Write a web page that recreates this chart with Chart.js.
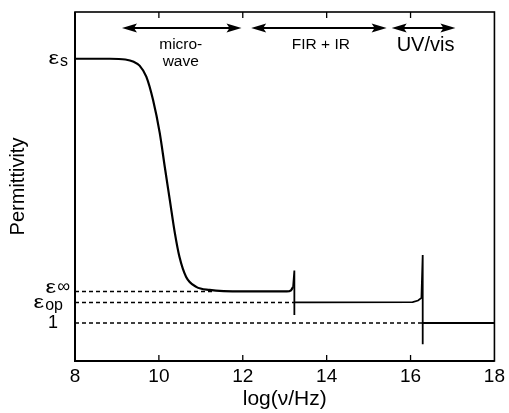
<!DOCTYPE html>
<html>
<head>
<meta charset="utf-8">
<script src="https://cdn.jsdelivr.net/npm/chart.js@4.4.1/dist/chart.umd.min.js"></script>
<style>
html,body{margin:0;padding:0;background:#fff;}
#wrap{width:509px;height:413px;}
</style>
</head>
<body>
<div id="wrap"><canvas id="c" width="509" height="413"></canvas></div>
<script>
// ---- data ----
// Debye-like relaxation (microwave region)
const relaxX = [8, 8.83, 9.20, 9.40, 9.54, 9.70, 9.86, 10.02, 10.14, 10.26, 10.38, 10.49, 10.65, 10.89, 11.21, 12.0, 13.05, 13.15, 13.20];
const relaxY = [7.95, 7.95, 7.93, 7.87, 7.77, 7.48, 6.87, 6.00, 5.11, 4.24, 3.37, 2.74, 2.21, 1.95, 1.87, 1.83, 1.83, 1.86, 1.95];
// resonance steps (FIR/IR and UV/vis)
const stepX = [13.20, 13.23, 13.23, 13.23, 13.6, 16.05, 16.18, 16.26, 16.29, 16.29, 16.29, 18];
const stepY = [1.95, 2.38, 1.21, 1.54, 1.54, 1.55, 1.59, 1.66, 2.79, 0.44, 1.00, 1.00];
const levelValues = [7.95, 1.83, 1.54, 1.0];
const levelMain = ['ε', 'ε', 'ε', '1'];
const levelSub = ['s', '∞', 'op', ''];
const dashedEnd = [null, 11.3, 13.23, 16.29];
const bandStart = [9.12, 12.2, 15.55];
const bandEnd = [11.97, 15.43, 17.07];
const bandLabels = [['micro-', 'wave'], ['FIR + IR'], ['UV/vis']];
const bandArrowY = 8.76;
const xTicks = [8, 10, 12, 14, 16, 18];

const FONT = '"Liberation Sans", Arial, Helvetica, sans-serif';

const dashedSets = [];
for (let i = 1; i < levelValues.length; i++) {
  dashedSets.push({
    type: 'line',
    data: [{x: 8, y: levelValues[i]}, {x: dashedEnd[i], y: levelValues[i]}],
    borderColor: '#000', borderWidth: 1.4, borderDash: [4, 3],
    pointRadius: 0, tension: 0, fill: false
  });
}

const deco = {
  id: 'deco',
  afterDatasetsDraw(chart) {
    const ctx = chart.ctx, a = chart.chartArea;
    const xs = chart.scales.x, ys = chart.scales.y;
    ctx.save();
    ctx.strokeStyle = '#000';
    ctx.lineWidth = 1.6;
    ctx.strokeRect(a.left, a.top, a.right - a.left, a.bottom - a.top);
    ctx.lineWidth = 2;
    ctx.beginPath(); ctx.moveTo(a.left, a.top); ctx.lineTo(a.left, a.bottom); ctx.lineTo(a.right, a.bottom); ctx.stroke();
    // inward ticks
    ctx.lineWidth = 1.3;
    xTicks.forEach(t => {
      if (t === 8 || t === 18) return;
      const px = xs.getPixelForValue(t);
      ctx.beginPath(); ctx.moveTo(px, a.bottom); ctx.lineTo(px, a.bottom - 6); ctx.stroke();
      ctx.beginPath(); ctx.moveTo(px, a.top); ctx.lineTo(px, a.top + 6); ctx.stroke();
    });
    // band arrows
    ctx.fillStyle = '#000';
    const ay = ys.getPixelForValue(bandArrowY);
    for (let i = 0; i < bandStart.length; i++) {
      const x1 = xs.getPixelForValue(bandStart[i]);
      const x2 = xs.getPixelForValue(bandEnd[i]);
      ctx.lineWidth = 2;
      ctx.beginPath(); ctx.moveTo(x1 + 6, ay); ctx.lineTo(x2 - 6, ay); ctx.stroke();
      ctx.beginPath(); ctx.moveTo(x1, ay); ctx.lineTo(x1 + 15, ay - 4.5); ctx.lineTo(x1 + 12, ay); ctx.lineTo(x1 + 15, ay + 4.5); ctx.closePath(); ctx.fill();
      ctx.beginPath(); ctx.moveTo(x2, ay); ctx.lineTo(x2 - 15, ay - 4.5); ctx.lineTo(x2 - 12, ay); ctx.lineTo(x2 - 15, ay + 4.5); ctx.closePath(); ctx.fill();
      const cx = (x1 + x2) / 2;
      ctx.textAlign = 'center'; ctx.textBaseline = 'middle';
      const lines = bandLabels[i];
      if (lines[0] === 'UV/vis') {
        ctx.font = '20px ' + FONT;
        ctx.fillText(lines[0], cx + 2, ay + 18);
      } else {
        ctx.font = '15.5px ' + FONT;
        lines.forEach((s, k) => ctx.fillText(s, (i === 0 ? cx - 1 : cx + 2), ay + 17 + k * 17));
      }
    }
    // level labels
    const rightEdge = [68, 70, 63, 58];
    const mainDy = [0, -4, 0, 0];
    const subDy = [3, -4, 3, 0];
    const subSize = [16, 18, 16, 0];
    const SX = 1.25;
    for (let i = 0; i < levelValues.length; i++) {
      const py = ys.getPixelForValue(levelValues[i]);
      ctx.textBaseline = 'middle';
      ctx.textAlign = 'left';
      if (levelSub[i] === '') {
        ctx.font = '18px ' + FONT;
        const w = ctx.measureText(levelMain[i]).width;
        ctx.fillText(levelMain[i], rightEdge[i] - w, py);
        continue;
      }
      ctx.font = subSize[i] + 'px ' + FONT;
      const ws = ctx.measureText(levelSub[i]).width;
      ctx.fillText(levelSub[i], rightEdge[i] - ws, py + subDy[i]);
      ctx.font = '19px ' + FONT;
      const wm = ctx.measureText(levelMain[i]).width * SX;
      const x0 = rightEdge[i] - ws - wm - 1;
      ctx.save();
      ctx.translate(x0, py + mainDy[i]);
      ctx.scale(SX, 1);
      ctx.fillText(levelMain[i], 0, 0);
      ctx.restore();
    }
    ctx.restore();
  }
};

new Chart(document.getElementById('c'), {
  type: 'line',
  data: {
    datasets: [
      {
        data: relaxX.map((x, i) => ({x: x, y: relaxY[i]})),
        borderColor: '#000', borderWidth: 2.2, pointRadius: 0,
        fill: false, cubicInterpolationMode: 'monotone'
      },
      {
        data: stepX.map((x, i) => ({x: x, y: stepY[i]})),
        borderColor: '#000', borderWidth: 1.8, pointRadius: 0,
        tension: 0, fill: false
      },
      ...dashedSets
    ]
  },
  options: {
    responsive: false,
    animation: false,
    devicePixelRatio: 1,
    layout: {padding: {top: 12, right: 12, left: 0, bottom: 0}},
    plugins: {legend: {display: false}, tooltip: {enabled: false}},
    scales: {
      x: {
        type: 'linear', min: 8, max: 18,
        afterBuildTicks(s) { s.ticks = xTicks.map(v => ({value: v})); },
        afterFit(s) { s.height = 52; },
        grid: {display: false, drawTicks: false},
        border: {display: false},
        ticks: {color: '#000', font: {family: FONT, size: 19}, padding: 4, maxRotation: 0},
        title: {display: true, text: 'log(ν/Hz)', color: '#000', font: {family: FONT, size: 21}, padding: {top: 0, bottom: 1}}
      },
      y: {
        type: 'linear', min: 0, max: 9.18,
        afterFit(s) { s.width = 75; },
        grid: {display: false, drawTicks: false},
        border: {display: false},
        ticks: {display: false},
        title: {display: true, text: 'Permittivity', color: '#000', font: {family: FONT, size: 20}, padding: {top: 6, bottom: 0}}
      }
    }
  },
  plugins: [deco]
});
</script>
</body>
</html>
